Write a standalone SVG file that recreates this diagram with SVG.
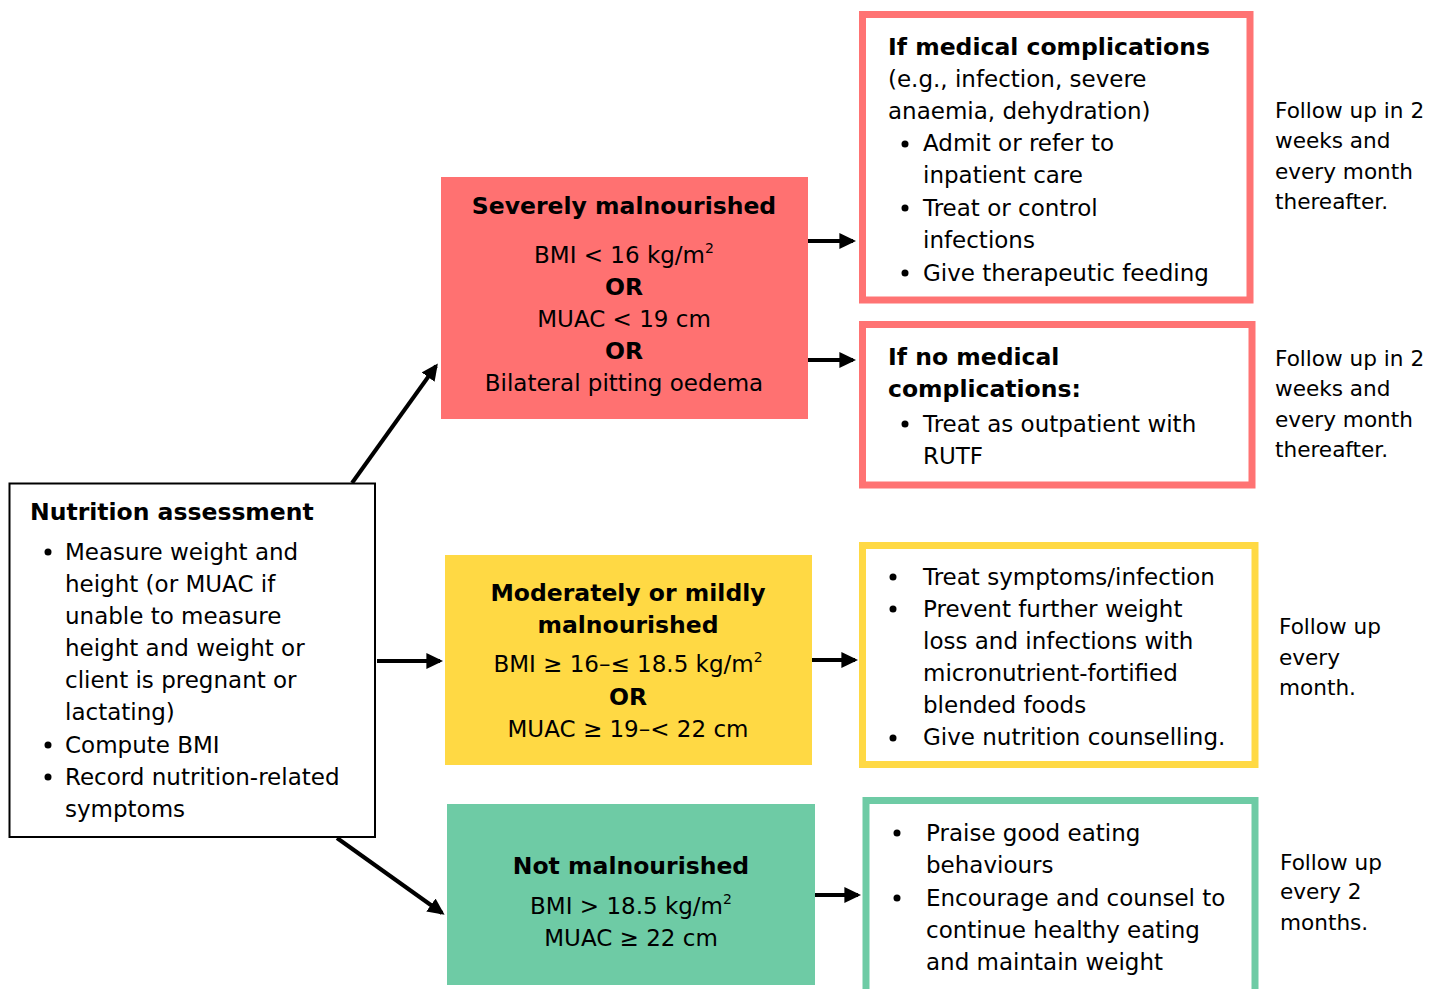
<svg xmlns="http://www.w3.org/2000/svg" width="1436" height="989" viewBox="0 0 1436 989">
<style>
text{font-family:"DejaVu Sans","Liberation Sans",sans-serif;font-size:23px;fill:#000}
.b{font-weight:bold;font-size:23.5px}
.c{text-anchor:middle}
.f{font-size:21.6px}
.sup{font-size:14px}
.dot{fill:#000}
</style>
<defs>
<marker id="ah" markerWidth="4.2" markerHeight="4" refX="3.4" refY="2" orient="auto" markerUnits="strokeWidth">
<path d="M0,0 L4.2,2 L0,4 z" fill="#000"/>
</marker>
</defs>
<rect width="1436" height="989" fill="#fff"/>

<g id="connectors" stroke="#000" stroke-width="4" fill="none" marker-end="url(#ah)">
<line x1="352" y1="483" x2="436" y2="366"/>
<line x1="377" y1="661" x2="440" y2="661"/>
<line x1="337" y1="838" x2="442" y2="913"/>
<line x1="808" y1="241" x2="853" y2="241"/>
<line x1="808" y1="360" x2="853" y2="360"/>
<line x1="812" y1="660" x2="855" y2="660"/>
<line x1="815" y1="895" x2="858" y2="895"/>
</g>

<g id="assessment">
<rect x="9.5" y="483.5" width="365.5" height="353.5" fill="#fff" stroke="#000" stroke-width="2"/>
<text class="b" x="30" y="520">Nutrition assessment</text>
<circle class="dot" cx="48" cy="552" r="3.5"/>
<circle class="dot" cx="48" cy="745" r="3.5"/>
<circle class="dot" cx="48" cy="777" r="3.5"/>
<text x="65" y="560">Measure weight and</text>
<text x="65" y="592">height (or MUAC if</text>
<text x="65" y="624">unable to measure</text>
<text x="65" y="656">height and weight or</text>
<text x="65" y="688">client is pregnant or</text>
<text x="65" y="720">lactating)</text>
<text x="65" y="753">Compute BMI</text>
<text x="65" y="785">Record nutrition-related</text>
<text x="65" y="817">symptoms</text>
</g>

<g id="severe">
<rect x="441" y="177" width="367" height="242" fill="#FF7171"/>
<text class="b c" x="624" y="214">Severely malnourished</text>
<text class="c" x="624" y="263">BMI &lt; 16 kg/m<tspan class="sup" dy="-10">2</tspan></text>
<text class="b c" x="624" y="295">OR</text>
<text class="c" x="624" y="327">MUAC &lt; 19 cm</text>
<text class="b c" x="624" y="359">OR</text>
<text class="c" x="624" y="391">Bilateral pitting oedema</text>
</g>

<g id="complications">
<rect x="862.5" y="14.5" width="387.5" height="285.5" fill="#fff" stroke="#FF7373" stroke-width="7"/>
<text class="b" x="888" y="55">If medical complications</text>
<text x="888" y="87">(e.g., infection, severe</text>
<text x="888" y="119">anaemia, dehydration)</text>
<circle class="dot" cx="905" cy="144" r="3.5"/>
<circle class="dot" cx="905" cy="208" r="3.5"/>
<circle class="dot" cx="905" cy="273" r="3.5"/>
<text x="923" y="151">Admit or refer to</text>
<text x="923" y="183">inpatient care</text>
<text x="923" y="216">Treat or control</text>
<text x="923" y="248">infections</text>
<text x="923" y="281">Give therapeutic feeding</text>
</g>
<g id="follow1">
<text class="f" x="1275" y="118">Follow up in 2</text>
<text class="f" x="1275" y="148">weeks and</text>
<text class="f" x="1275" y="179">every month</text>
<text class="f" x="1275" y="209">thereafter.</text>
</g>

<g id="no-complications">
<rect x="862.5" y="324.5" width="389.5" height="160.5" fill="#fff" stroke="#FF7373" stroke-width="7"/>
<text class="b" x="888" y="365">If no medical</text>
<text class="b" x="888" y="397">complications:</text>
<circle class="dot" cx="905" cy="424" r="3.5"/>
<text x="923" y="432">Treat as outpatient with</text>
<text x="923" y="464">RUTF</text>
</g>
<g id="follow2">
<text class="f" x="1275" y="366">Follow up in 2</text>
<text class="f" x="1275" y="396">weeks and</text>
<text class="f" x="1275" y="427">every month</text>
<text class="f" x="1275" y="457">thereafter.</text>
</g>

<g id="moderate">
<rect x="445" y="555" width="367" height="210" fill="#FFD944"/>
<text class="b c" x="628" y="601">Moderately or mildly</text>
<text class="b c" x="628" y="633">malnourished</text>
<text class="c" x="628" y="672">BMI ≥ 16–≤ 18.5 kg/m<tspan class="sup" dy="-10">2</tspan></text>
<text class="b c" x="628" y="705">OR</text>
<text class="c" x="628" y="737">MUAC ≥ 19–&lt; 22 cm</text>
</g>

<g id="moderate-actions">
<rect x="862.5" y="545.5" width="392.5" height="219" fill="#fff" stroke="#FFD944" stroke-width="7"/>
<circle class="dot" cx="893" cy="577" r="3.5"/>
<circle class="dot" cx="893" cy="609" r="3.5"/>
<circle class="dot" cx="893" cy="738" r="3.5"/>
<text x="923" y="585">Treat symptoms/infection</text>
<text x="923" y="617">Prevent further weight</text>
<text x="923" y="649">loss and infections with</text>
<text x="923" y="681">micronutrient-fortified</text>
<text x="923" y="713">blended foods</text>
<text x="923" y="745">Give nutrition counselling.</text>
</g>
<g id="follow3">
<text class="f" x="1279" y="634">Follow up</text>
<text class="f" x="1279" y="665">every</text>
<text class="f" x="1279" y="695">month.</text>
</g>

<g id="normal">
<rect x="447" y="804" width="368" height="181" fill="#6ECBA5"/>
<text class="b c" x="631" y="874">Not malnourished</text>
<text class="c" x="631" y="914">BMI &gt; 18.5 kg/m<tspan class="sup" dy="-10">2</tspan></text>
<text class="c" x="631" y="946">MUAC ≥ 22 cm</text>
</g>

<g id="normal-actions">
<rect x="866" y="800.5" width="389" height="192" fill="#fff" stroke="#6ECBA5" stroke-width="7"/>
<circle class="dot" cx="897" cy="833" r="3.5"/>
<circle class="dot" cx="897" cy="898" r="3.5"/>
<text x="926" y="841">Praise good eating</text>
<text x="926" y="873">behaviours</text>
<text x="926" y="906">Encourage and counsel to</text>
<text x="926" y="938">continue healthy eating</text>
<text x="926" y="970">and maintain weight</text>
</g>
<g id="follow4">
<text class="f" x="1280" y="870">Follow up</text>
<text class="f" x="1280" y="899">every 2</text>
<text class="f" x="1280" y="930">months.</text>
</g>
</svg>
